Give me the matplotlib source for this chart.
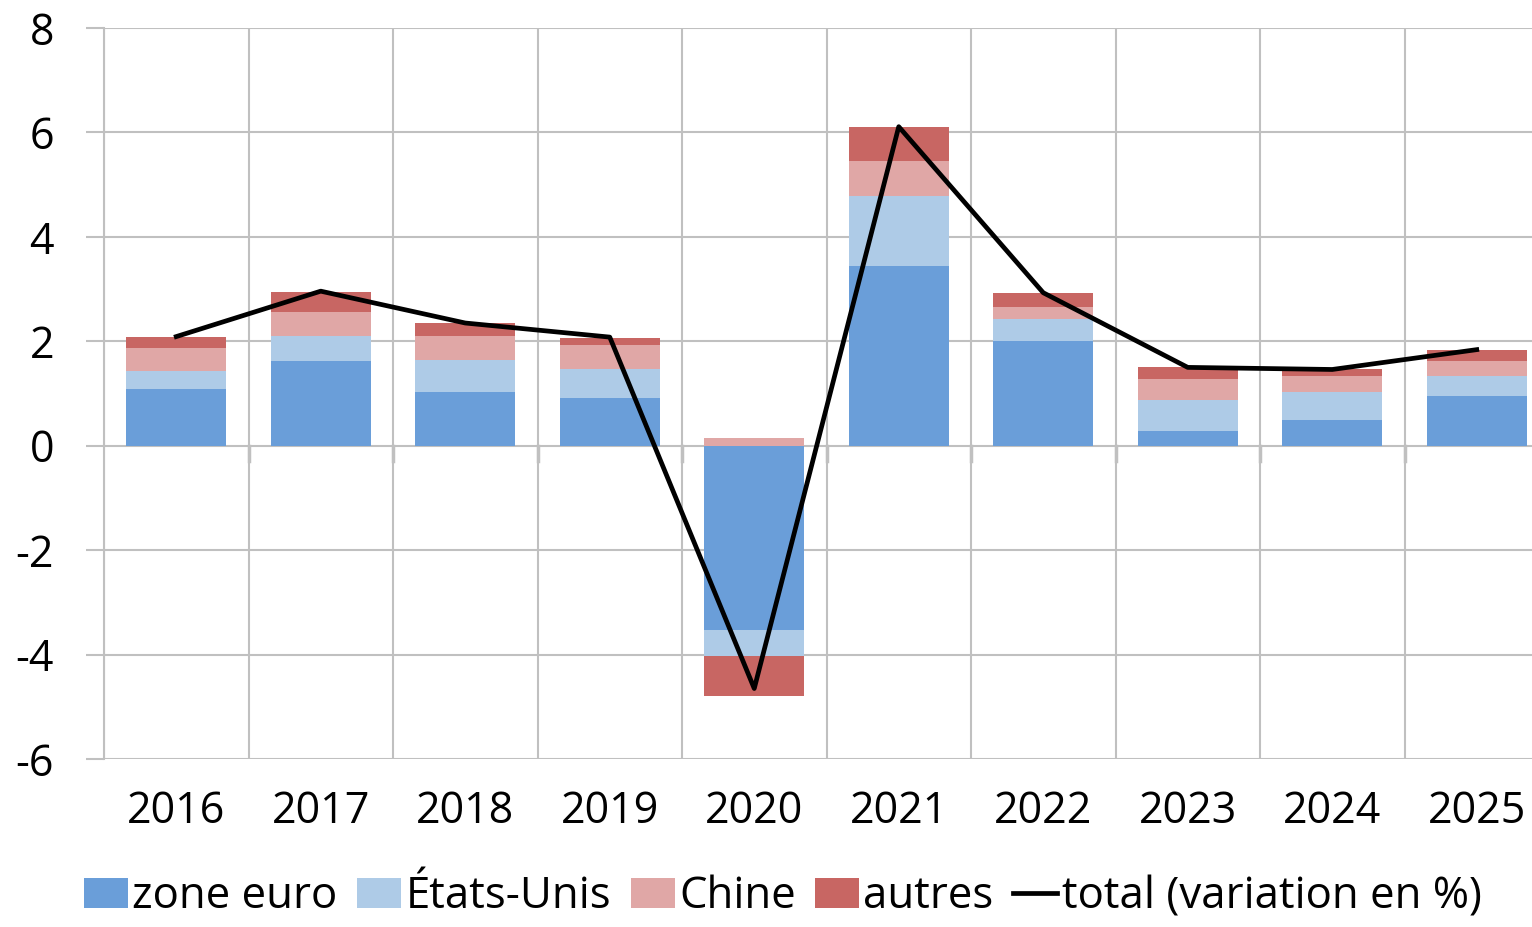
import numpy as np
import matplotlib
matplotlib.use("Agg")
import matplotlib.pyplot as plt

# contributions par zone (points de %)
annees = ["2016", "2017", "2018", "2019", "2020", "2021", "2022", "2023", "2024", "2025"]
zone_euro = [1.08, 1.62, 1.02, 0.91, -3.53, 3.44, 2.00, 0.29, 0.50, 0.95]
etats_unis = [0.36, 0.49, 0.63, 0.56, -0.50, 1.34, 0.43, 0.59, 0.52, 0.39]
chine = [0.44, 0.46, 0.46, 0.45, 0.15, 0.68, 0.22, 0.40, 0.32, 0.29]
autres = [0.21, 0.38, 0.24, 0.15, -0.77, 0.65, 0.28, 0.22, 0.12, 0.21]
total = [2.09, 2.96, 2.35, 2.08, -4.65, 6.11, 2.93, 1.50, 1.46, 1.84]

couleurs = ["#6a9ed9", "#aecbe7", "#e0a7a6", "#c86663"]
noms = ["zone euro", "États-Unis", "Chine", "autres"]
gris = "#c0c0c0"

plt.rcParams['font.family'] = ['Open Sans', 'DejaVu Sans']

fig = plt.figure(figsize=(15.32, 9.27), dpi=100)
ax = fig.add_axes([104/1532, 1-759/927, 1445/1532, 731/927])

x = np.arange(len(annees))
series = [zone_euro, etats_unis, chine, autres]
pos = np.zeros(len(x))
neg = np.zeros(len(x))
for s, c, n in zip(series, couleurs, noms):
    v = np.array(s)
    base = np.where(v >= 0, pos, neg)
    ax.bar(x, v, 0.69, bottom=base, color=c, label=n, zorder=2)
    pos = pos + np.where(v >= 0, v, 0)
    neg = neg + np.where(v < 0, v, 0)

ax.plot(x, total, color="black", lw=3.4, label="total (variation en %)", zorder=3)

ax.set_xlim(-0.5, 9.5)
ax.set_ylim(-6, 8)
ax.set_yticks(np.arange(-6, 9, 2))
ax.set_yticklabels([str(v) for v in range(-6, 9, 2)])
ax.set_xticks(x)
ax.set_xticklabels(annees)
ax.set_xticks(np.arange(-0.5, 9.6, 1), minor=True)

ax.grid(axis="y", which="major", color=gris, lw=1.5, zorder=0)
ax.grid(axis="x", which="minor", color=gris, lw=1.5, zorder=0)
for sp in ["top", "right", "bottom"]:
    ax.spines[sp].set_visible(False)
ax.spines["left"].set_color(gris)
ax.spines["left"].set_linewidth(1.5)

ax.tick_params(axis="y", length=13, width=1.5, color=gris, pad=23, labelsize=31)
ax.tick_params(axis="x", which="major", length=0, pad=22, labelsize=31)
ax.tick_params(axis="x", which="minor", length=0)

# petits traits sous l'axe zéro
for b in np.arange(0.5, 9.5, 1):
    ax.plot([b, b], [0, -0.3], color=gris, lw=2.5, zorder=1)

h, l = ax.get_legend_handles_labels()
h = h[1:] + h[:1]
l = l[1:] + l[:1]
fig.legend(h, l, loc="center", bbox_to_anchor=(0.511, 1-897/927), ncol=5, frameon=False,
           fontsize=31.5, handlelength=1.0, handleheight=0.7, handletextpad=0.1,
           columnspacing=0.45, borderaxespad=0, borderpad=0)

fig.savefig("out.png", dpi=100)
